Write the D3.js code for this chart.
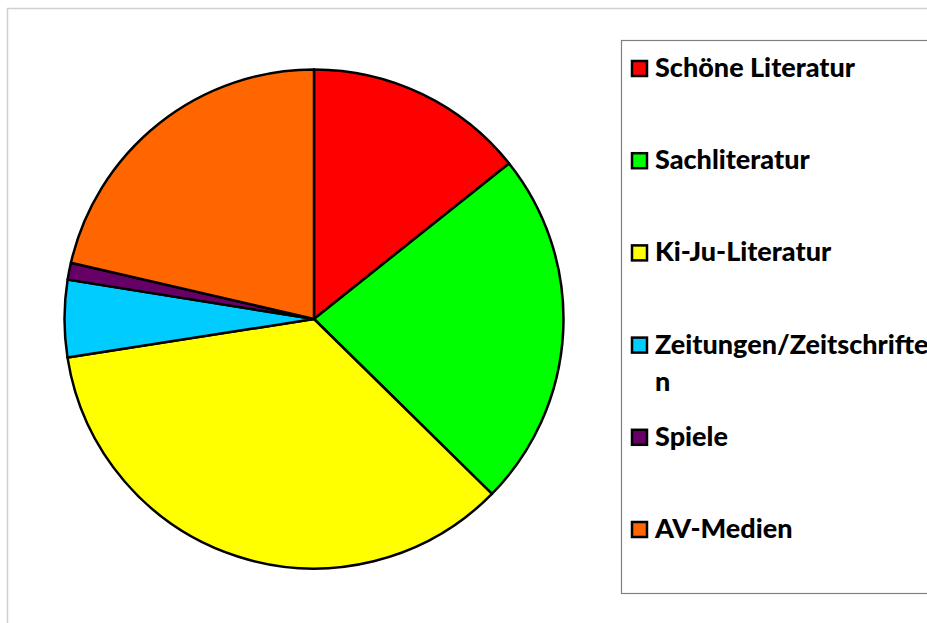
<!DOCTYPE html>
<html>
<head>
<meta charset="utf-8">
<script src="https://cdn.jsdelivr.net/npm/d3@7"></script>
<style>
  html, body { margin: 0; padding: 0; background: #fff; }
  svg { display: block; }
</style>
</head>
<body>
<svg width="927" height="623"></svg>
<script>
const categories = ["Schöne Literatur", "Sachliteratur", "Ki-Ju-Literatur", "Zeitungen/Zeitschriften", "Spiele", "AV-Medien"];
const values = [14.3, 23.1, 35.2, 5.0, 1.1, 21.4];
const colours = ["#ff0000", "#00ff00", "#ffff00", "#00ccff", "#660066", "#ff6600"];

const width = 927;
const height = 623;
const svg = d3.select("svg");

// chart area border (goes off the right/bottom edges)
svg.append("rect")
  .attr("x", 7.5).attr("y", 8.5)
  .attr("width", width + 10).attr("height", height + 10)
  .attr("fill", "none")
  .attr("stroke", "#d0d0d0")
  .attr("stroke-width", 1.5);

const data = categories.map((c, i) => ({ name: c, value: values[i] }));
const colour = d3.scaleOrdinal().domain(categories).range(colours);

const pie = d3.pie().sort(null).value(d => d.value);
const arc = d3.arc().innerRadius(0).outerRadius(249.5);

svg.append("g")
  .attr("transform", "translate(314,319)")
  .selectAll("path")
  .data(pie(data))
  .enter().append("path")
  .attr("d", arc)
  .attr("fill", d => colour(d.data.name))
  .attr("stroke", "#000")
  .attr("stroke-width", 2.5)
  .attr("stroke-linejoin", "round");

// legend
svg.append("rect")
  .attr("x", 621.5).attr("y", 40.5)
  .attr("width", 400).attr("height", 553)
  .attr("fill", "#fff")
  .attr("stroke", "#808080")
  .attr("stroke-width", 1.2);

const font = "Lato, 'Open Sans', sans-serif";

// fit font size so that the first label is as wide as in the original
const probe = svg.append("text")
  .style("font-family", font).style("font-weight", "900").style("font-size", "100px")
  .text(categories[0]);
const fontSize = 100 * 200 / probe.node().getComputedTextLength();
probe.remove();

const legendY = d3.scalePoint().domain(categories).range([77, 538]);
const maxWidth = 284;

const item = svg.append("g").selectAll("g")
  .data(categories)
  .enter().append("g")
  .attr("transform", d => "translate(0," + legendY(d) + ")");

item.append("rect")
  .attr("x", 632).attr("y", -16)
  .attr("width", 15).attr("height", 15)
  .attr("fill", d => colour(d))
  .attr("stroke", "#000")
  .attr("stroke-width", 2.5);

item.append("text")
  .attr("x", 655)
  .style("font-family", font)
  .style("font-weight", "900")
  .style("font-size", fontSize + "px")
  .attr("fill", "#000")
  .each(function(d) {
    const text = d3.select(this);
    let line = "";
    let tspan = text.append("tspan").attr("x", 655).attr("dy", 0);
    for (const ch of d) {
      tspan.text(line + ch);
      if (tspan.node().getComputedTextLength() > maxWidth && line.length) {
        tspan.text(line);
        line = ch;
        tspan = text.append("tspan").attr("x", 655).attr("dy", 37).text(line);
      } else {
        line += ch;
      }
    }
  });
</script>
</body>
</html>
